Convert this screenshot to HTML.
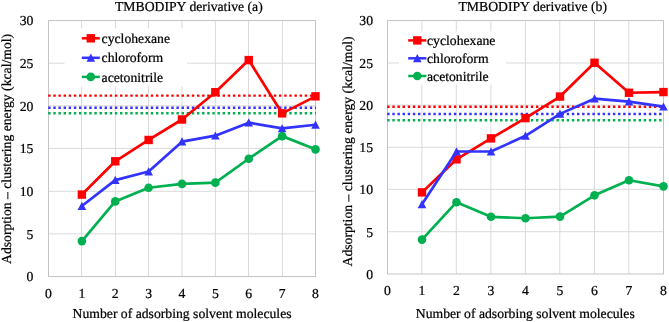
<!DOCTYPE html>
<html><head><meta charset="utf-8"><style>
html,body{margin:0;padding:0;background:#fff;}
svg{display:block;will-change:transform;}
text{text-rendering:geometricPrecision;font-family:"Liberation Serif",serif;font-size:13.7px;fill:#000;stroke:#000;stroke-width:0.22px;}
</style></head><body>
<svg width="669" height="322" viewBox="0 0 669 322">
<rect width="669" height="322" fill="#fff"/>
<line x1="81.60" y1="20.50" x2="81.60" y2="276.50" stroke="#dadada" stroke-width="1"/>
<line x1="115.45" y1="20.50" x2="115.45" y2="276.50" stroke="#dadada" stroke-width="1"/>
<line x1="148.50" y1="20.50" x2="148.50" y2="276.50" stroke="#dadada" stroke-width="1"/>
<line x1="181.96" y1="20.50" x2="181.96" y2="276.50" stroke="#dadada" stroke-width="1"/>
<line x1="215.40" y1="20.50" x2="215.40" y2="276.50" stroke="#dadada" stroke-width="1"/>
<line x1="248.50" y1="20.50" x2="248.50" y2="276.50" stroke="#dadada" stroke-width="1"/>
<line x1="282.40" y1="20.50" x2="282.40" y2="276.50" stroke="#dadada" stroke-width="1"/>
<line x1="48.50" y1="233.90" x2="315.50" y2="233.90" stroke="#dadada" stroke-width="1"/>
<line x1="48.50" y1="191.30" x2="315.50" y2="191.30" stroke="#dadada" stroke-width="1"/>
<line x1="48.50" y1="148.45" x2="315.50" y2="148.45" stroke="#dadada" stroke-width="1"/>
<line x1="48.50" y1="105.80" x2="315.50" y2="105.80" stroke="#dadada" stroke-width="1"/>
<line x1="48.50" y1="63.20" x2="315.50" y2="63.20" stroke="#dadada" stroke-width="1"/>
<rect x="48.50" y="20.50" width="267.00" height="256.00" fill="none" stroke="#c4c4c4" stroke-width="1"/>
<rect x="64.5" y="28.5" width="122.5" height="58" fill="#fff"/>
<line x1="48.20" y1="95.59" x2="316.00" y2="95.59" stroke="#ff0000" stroke-width="2.4" stroke-dasharray="2.4 2.73"/>
<line x1="48.20" y1="107.80" x2="316.00" y2="107.80" stroke="#3333ff" stroke-width="2.4" stroke-dasharray="2.4 2.73"/>
<line x1="48.20" y1="113.26" x2="316.00" y2="113.26" stroke="#00b050" stroke-width="2.4" stroke-dasharray="2.4 2.73"/>
<polyline points="81.88,194.58 115.25,161.30 148.62,139.97 182.00,119.49 215.38,92.18 248.75,60.09 282.12,113.34 315.50,96.36" fill="none" stroke="#ff0000" stroke-width="2.7" stroke-linejoin="round"/>
<rect x="77.67" y="190.38" width="8.4" height="8.4" fill="#ff0000"/>
<rect x="111.05" y="157.10" width="8.4" height="8.4" fill="#ff0000"/>
<rect x="144.43" y="135.77" width="8.4" height="8.4" fill="#ff0000"/>
<rect x="177.80" y="115.29" width="8.4" height="8.4" fill="#ff0000"/>
<rect x="211.18" y="87.98" width="8.4" height="8.4" fill="#ff0000"/>
<rect x="244.55" y="55.89" width="8.4" height="8.4" fill="#ff0000"/>
<rect x="277.93" y="109.14" width="8.4" height="8.4" fill="#ff0000"/>
<rect x="311.30" y="92.16" width="8.4" height="8.4" fill="#ff0000"/>
<polyline points="81.88,206.01 115.25,180.07 148.62,171.54 182.00,141.67 215.38,135.70 248.75,122.64 282.12,128.45 315.50,124.78" fill="none" stroke="#3333ff" stroke-width="2.7" stroke-linejoin="round"/>
<polygon points="81.88,201.71 86.17,209.91 77.58,209.91" fill="#3333ff"/>
<polygon points="115.25,175.77 119.55,183.97 110.95,183.97" fill="#3333ff"/>
<polygon points="148.62,167.24 152.93,175.44 144.32,175.44" fill="#3333ff"/>
<polygon points="182.00,137.37 186.30,145.57 177.70,145.57" fill="#3333ff"/>
<polygon points="215.38,131.40 219.68,139.60 211.07,139.60" fill="#3333ff"/>
<polygon points="248.75,118.34 253.05,126.54 244.45,126.54" fill="#3333ff"/>
<polygon points="282.12,124.15 286.43,132.35 277.82,132.35" fill="#3333ff"/>
<polygon points="315.50,120.48 319.80,128.68 311.20,128.68" fill="#3333ff"/>
<polyline points="81.88,241.09 115.25,201.41 148.62,187.75 182.00,183.91 215.38,182.63 248.75,158.74 282.12,136.13 315.50,149.35" fill="none" stroke="#00b050" stroke-width="2.7" stroke-linejoin="round"/>
<circle cx="81.88" cy="241.09" r="4.3" fill="#00b050"/>
<circle cx="115.25" cy="201.41" r="4.3" fill="#00b050"/>
<circle cx="148.62" cy="187.75" r="4.3" fill="#00b050"/>
<circle cx="182.00" cy="183.91" r="4.3" fill="#00b050"/>
<circle cx="215.38" cy="182.63" r="4.3" fill="#00b050"/>
<circle cx="248.75" cy="158.74" r="4.3" fill="#00b050"/>
<circle cx="282.12" cy="136.13" r="4.3" fill="#00b050"/>
<circle cx="315.50" cy="149.35" r="4.3" fill="#00b050"/>
<line x1="81.8" y1="38.3" x2="99.8" y2="38.3" stroke="#ff0000" stroke-width="2.5"/>
<rect x="86.60" y="34.10" width="8.4" height="8.4" fill="#ff0000"/>
<text x="101.6" y="42.90">cyclohexane</text>
<line x1="81.8" y1="57.8" x2="99.8" y2="57.8" stroke="#3333ff" stroke-width="2.5"/>
<polygon points="90.80,53.50 95.10,61.70 86.50,61.70" fill="#3333ff"/>
<text x="101.6" y="62.40">chloroform</text>
<line x1="81.8" y1="76.9" x2="99.8" y2="76.9" stroke="#00b050" stroke-width="2.5"/>
<circle cx="90.80" cy="76.90" r="4.3" fill="#00b050"/>
<text x="101.6" y="81.50">acetonitrile</text>
<text x="115" y="11">TMBODIPY derivative (a)</text>
<text x="33.4" y="281.30" text-anchor="end">0</text>
<text x="33.4" y="238.63" text-anchor="end">5</text>
<text x="33.4" y="195.97" text-anchor="end">10</text>
<text x="33.4" y="153.30" text-anchor="end">15</text>
<text x="33.4" y="110.63" text-anchor="end">20</text>
<text x="33.4" y="67.97" text-anchor="end">25</text>
<text x="33.4" y="25.30" text-anchor="end">30</text>
<text x="48.50" y="297.6" text-anchor="middle">0</text>
<text x="81.88" y="297.6" text-anchor="middle">1</text>
<text x="115.25" y="297.6" text-anchor="middle">2</text>
<text x="148.62" y="297.6" text-anchor="middle">3</text>
<text x="182.00" y="297.6" text-anchor="middle">4</text>
<text x="215.38" y="297.6" text-anchor="middle">5</text>
<text x="248.75" y="297.6" text-anchor="middle">6</text>
<text x="282.12" y="297.6" text-anchor="middle">7</text>
<text x="315.50" y="297.6" text-anchor="middle">8</text>
<text x="72.6" y="317.6">Number of adsorbing solvent molecules</text>
<text transform="translate(11.2,264) rotate(-90)">Adsorption – clustering energy (kcal/mol)</text>
<line x1="421.90" y1="20.50" x2="421.90" y2="274.00" stroke="#dadada" stroke-width="1"/>
<line x1="456.30" y1="20.50" x2="456.30" y2="274.00" stroke="#dadada" stroke-width="1"/>
<line x1="490.90" y1="20.50" x2="490.90" y2="274.00" stroke="#dadada" stroke-width="1"/>
<line x1="525.40" y1="20.50" x2="525.40" y2="274.00" stroke="#dadada" stroke-width="1"/>
<line x1="559.80" y1="20.50" x2="559.80" y2="274.00" stroke="#dadada" stroke-width="1"/>
<line x1="594.50" y1="20.50" x2="594.50" y2="274.00" stroke="#dadada" stroke-width="1"/>
<line x1="628.80" y1="20.50" x2="628.80" y2="274.00" stroke="#dadada" stroke-width="1"/>
<line x1="387.50" y1="231.70" x2="663.50" y2="231.70" stroke="#dadada" stroke-width="1"/>
<line x1="387.50" y1="189.30" x2="663.50" y2="189.30" stroke="#dadada" stroke-width="1"/>
<line x1="387.50" y1="147.30" x2="663.50" y2="147.30" stroke="#dadada" stroke-width="1"/>
<line x1="387.50" y1="105.10" x2="663.50" y2="105.10" stroke="#dadada" stroke-width="1"/>
<line x1="387.50" y1="63.00" x2="663.50" y2="63.00" stroke="#dadada" stroke-width="1"/>
<rect x="387.50" y="20.50" width="276.00" height="253.50" fill="none" stroke="#c4c4c4" stroke-width="1"/>
<rect x="399" y="31.4" width="107" height="53.2" fill="#fff"/>
<line x1="387.20" y1="106.69" x2="664.00" y2="106.69" stroke="#ff0000" stroke-width="2.4" stroke-dasharray="2.4 2.73"/>
<line x1="387.20" y1="114.04" x2="664.00" y2="114.04" stroke="#3333ff" stroke-width="2.4" stroke-dasharray="2.4 2.73"/>
<line x1="387.20" y1="120.21" x2="664.00" y2="120.21" stroke="#00b050" stroke-width="2.4" stroke-dasharray="2.4 2.73"/>
<polyline points="422.00,192.37 456.50,159.33 491.00,138.38 525.50,118.10 560.00,96.55 594.50,62.75 629.00,92.75 663.50,92.07" fill="none" stroke="#ff0000" stroke-width="2.7" stroke-linejoin="round"/>
<rect x="417.80" y="188.17" width="8.4" height="8.4" fill="#ff0000"/>
<rect x="452.30" y="155.13" width="8.4" height="8.4" fill="#ff0000"/>
<rect x="486.80" y="134.18" width="8.4" height="8.4" fill="#ff0000"/>
<rect x="521.30" y="113.90" width="8.4" height="8.4" fill="#ff0000"/>
<rect x="555.80" y="92.35" width="8.4" height="8.4" fill="#ff0000"/>
<rect x="590.30" y="58.55" width="8.4" height="8.4" fill="#ff0000"/>
<rect x="624.80" y="88.55" width="8.4" height="8.4" fill="#ff0000"/>
<rect x="659.30" y="87.87" width="8.4" height="8.4" fill="#ff0000"/>
<polyline points="422.00,204.29 456.50,151.48 491.00,151.48 525.50,135.84 560.00,113.87 594.50,98.66 629.00,101.62 663.50,106.69" fill="none" stroke="#3333ff" stroke-width="2.7" stroke-linejoin="round"/>
<polygon points="422.00,199.99 426.30,208.19 417.70,208.19" fill="#3333ff"/>
<polygon points="456.50,147.18 460.80,155.38 452.20,155.38" fill="#3333ff"/>
<polygon points="491.00,147.18 495.30,155.38 486.70,155.38" fill="#3333ff"/>
<polygon points="525.50,131.54 529.80,139.74 521.20,139.74" fill="#3333ff"/>
<polygon points="560.00,109.57 564.30,117.77 555.70,117.77" fill="#3333ff"/>
<polygon points="594.50,94.36 598.80,102.56 590.20,102.56" fill="#3333ff"/>
<polygon points="629.00,97.32 633.30,105.52 624.70,105.52" fill="#3333ff"/>
<polygon points="663.50,102.39 667.80,110.59 659.20,110.59" fill="#3333ff"/>
<polyline points="422.00,239.61 456.50,202.18 491.00,216.79 525.50,218.23 560.00,216.62 594.50,195.33 629.00,180.29 663.50,186.37" fill="none" stroke="#00b050" stroke-width="2.7" stroke-linejoin="round"/>
<circle cx="422.00" cy="239.61" r="4.3" fill="#00b050"/>
<circle cx="456.50" cy="202.18" r="4.3" fill="#00b050"/>
<circle cx="491.00" cy="216.79" r="4.3" fill="#00b050"/>
<circle cx="525.50" cy="218.23" r="4.3" fill="#00b050"/>
<circle cx="560.00" cy="216.62" r="4.3" fill="#00b050"/>
<circle cx="594.50" cy="195.33" r="4.3" fill="#00b050"/>
<circle cx="629.00" cy="180.29" r="4.3" fill="#00b050"/>
<circle cx="663.50" cy="186.37" r="4.3" fill="#00b050"/>
<line x1="408.2" y1="40.4" x2="426.4" y2="40.4" stroke="#ff0000" stroke-width="2.5"/>
<rect x="413.10" y="36.20" width="8.4" height="8.4" fill="#ff0000"/>
<text x="427.0" y="45.00">cyclohexane</text>
<line x1="408.2" y1="58.3" x2="426.4" y2="58.3" stroke="#3333ff" stroke-width="2.5"/>
<polygon points="417.30,54.00 421.60,62.20 413.00,62.20" fill="#3333ff"/>
<text x="427.0" y="62.90">chloroform</text>
<line x1="408.2" y1="76.0" x2="426.4" y2="76.0" stroke="#00b050" stroke-width="2.5"/>
<circle cx="417.30" cy="76.00" r="4.3" fill="#00b050"/>
<text x="427.0" y="80.60">acetonitrile</text>
<text x="458.5" y="11">TMBODIPY derivative (b)</text>
<text x="373" y="278.80" text-anchor="end">0</text>
<text x="373" y="236.55" text-anchor="end">5</text>
<text x="373" y="194.30" text-anchor="end">10</text>
<text x="373" y="152.05" text-anchor="end">15</text>
<text x="373" y="109.80" text-anchor="end">20</text>
<text x="373" y="67.55" text-anchor="end">25</text>
<text x="373" y="25.30" text-anchor="end">30</text>
<text x="387.50" y="295" text-anchor="middle">0</text>
<text x="422.00" y="295" text-anchor="middle">1</text>
<text x="456.50" y="295" text-anchor="middle">2</text>
<text x="491.00" y="295" text-anchor="middle">3</text>
<text x="525.50" y="295" text-anchor="middle">4</text>
<text x="560.00" y="295" text-anchor="middle">5</text>
<text x="594.50" y="295" text-anchor="middle">6</text>
<text x="629.00" y="295" text-anchor="middle">7</text>
<text x="663.50" y="295" text-anchor="middle">8</text>
<text x="415.8" y="317.5">Number of adsorbing solvent molecules</text>
<text transform="translate(351.5,266.5) rotate(-90)">Adsorption – clustering energy (kcal/mol)</text>
</svg>
</body></html>
